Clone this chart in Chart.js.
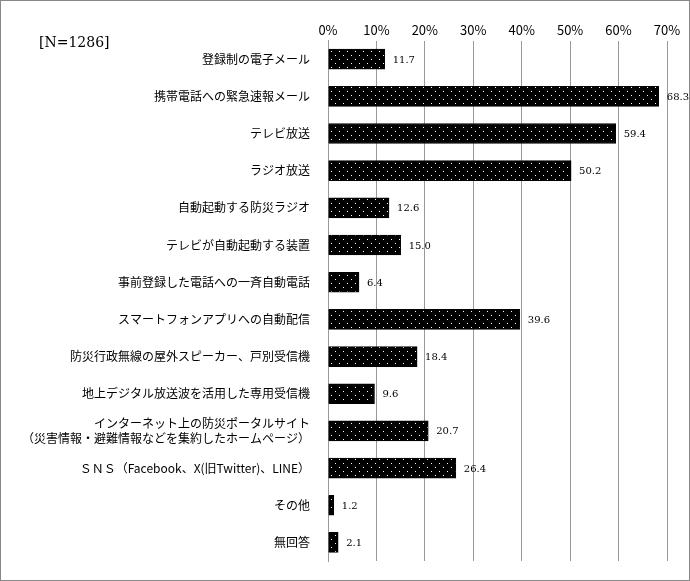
<!DOCTYPE html>
<html>
<head>
<meta charset="utf-8">
<script src="https://cdn.jsdelivr.net/npm/chart.js@4"></script>
<style>
body { margin: 0; background: #fff; }
#wrap { position: absolute; left: 0; top: 0; width: 688px; height: 579px; border: 1px solid #888; }
</style>
</head>
<body>
<div id="wrap"><canvas id="js--chart" width="688" height="579"></canvas></div>
<script>
const kategorieen = [
    "登録制の電子メール",
    "携帯電話への緊急速報メール",
    "テレビ放送",
    "ラジオ放送",
    "自動起動する防災ラジオ",
    "テレビが自動起動する装置",
    "事前登録した電話への一斉自動電話",
    "スマートフォンアプリへの自動配信",
    "防災行政無線の屋外スピーカー、戸別受信機",
    "地上デジタル放送波を活用した専用受信機",
    ["インターネット上の防災ポータルサイト", "（災害情報・避難情報などを集約したホームページ）"],
    "ＳＮＳ（Facebook、X(旧Twitter)、LINE）",
    "その他",
    "無回答"
];
const waarden = [11.7, 68.3, 59.4, 50.2, 12.6, 15.0, 6.4, 39.6, 18.4, 9.6, 20.7, 26.4, 1.2, 2.1];
const tickLabels = ["0%", "10%", "20%", "30%", "40%", "50%", "60%", "70%"];

// stippen patroon
const pc = document.createElement("canvas");
pc.width = 8; pc.height = 8;
const px = pc.getContext("2d");
px.fillStyle = "#000";
px.fillRect(0, 0, 8, 8);
px.fillStyle = "#fff";
px.fillRect(2, 2, 1, 1);
px.fillRect(6, 6, 1, 1);
const dots = px.createPattern(pc, "repeat");

const font = "'Noto Sans CJK JP', 'DejaVu Serif', serif";

const extra = {
    id: "extra",
    afterDatasetsDraw(chart) {
        const ctx = chart.ctx;
        const meta = chart.getDatasetMeta(0);
        ctx.save();
        ctx.fillStyle = "#000";
        ctx.font = "10px 'DejaVu Serif', serif";
        ctx.textBaseline = "middle";
        meta.data.forEach((bar, i) => {
            ctx.fillText(waarden[i].toFixed(1), bar.x + 8, bar.y + 1);
        });
        ctx.font = "14px 'DejaVu Serif', serif";
        ctx.fillText("[N=1286]", 38, 42);
        ctx.restore();
    }
};

new Chart(document.getElementById("js--chart"), {
    type: "bar",
    data: {
        labels: kategorieen,
        datasets: [{
            data: waarden,
            backgroundColor: dots,
            borderColor: "#000",
            borderWidth: 1,
            barThickness: 20
        }]
    },
    options: {
        indexAxis: "y",
        responsive: false,
        animation: false,
        layout: { padding: { top: 18, right: 22, bottom: 19, left: 0 } },
        plugins: { legend: { display: false }, tooltip: { enabled: false } },
        scales: {
            x: {
                position: "top",
                min: 0, max: 70,
                ticks: {
                    stepSize: 10,
                    color: "#000",
                    font: { family: font, size: 13 },
                    callback: (v, i) => tickLabels[i]
                },
                grid: { color: "#999", drawTicks: false, tickLength: 8 },
                border: { display: false }
            },
            y: {
                afterFit(s) { s.width = 327; },
                ticks: {
                    color: "#000",
                    font: { family: font, size: 12 },
                    padding: 10
                },
                grid: { display: false },
                border: { color: "#999" }
            }
        }
    },
    plugins: [extra]
});
</script>
</body>
</html>
